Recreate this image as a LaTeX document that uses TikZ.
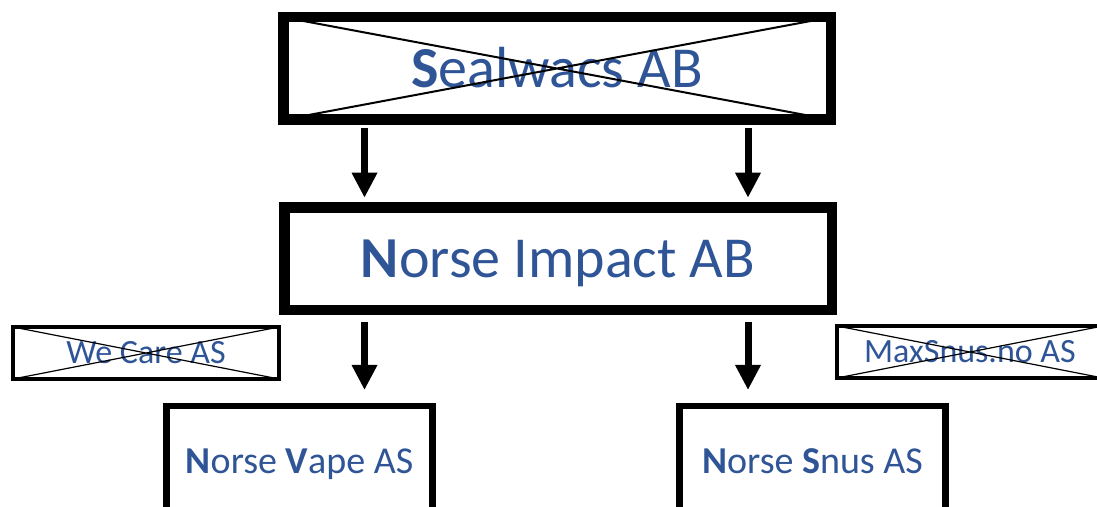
\documentclass[tikz,border=0pt]{standalone}
\usepackage{fontspec}
\setmainfont{Carlito}
\usetikzlibrary{arrows.meta}
\definecolor{nodeblue}{RGB}{47,85,151}
\tikzset{
  bigbox/.style={draw, line width=5.25pt, minimum width=273.75pt, minimum height=51.25pt,
    inner sep=0pt, outer sep=0pt, text=nodeblue,
    font=\fontsize{29}{34}\selectfont, text height=18.7pt, text depth=0pt},
  smallbox/.style={draw, line width=2pt, minimum width=133pt, minimum height=26pt,
    inner sep=0pt, outer sep=0pt, text=nodeblue,
    font=\fontsize{17}{20}\selectfont, text height=11pt, text depth=0pt},
  unitbox/.style={draw, line width=3.25pt, minimum width=133pt, minimum height=55pt,
    inner sep=0pt, outer sep=0pt, text=nodeblue,
    font=\fontsize{19}{23}\selectfont, text height=12.2pt, text depth=0pt},
  arr/.style={-{Triangle[width=12pt,length=12.5pt]}, line width=3.5pt}
}
\begin{document}
\begin{tikzpicture}[x=0.5pt,y=-0.5pt]
  \useasboundingbox (0,0) rectangle (1097,507);
  % holding companies
  \node[bigbox] (sealwacs) at (557,68.5) {\textbf{S}ealwacs AB};
  \node[bigbox] (impact) at (558,259) {\textbf{N}orse Impact AB};
  % subsidiaries that are gone
  \node[smallbox] (wecare) at (146,353) {We Care AS};
  \node[smallbox] (maxsnus) at (970,352) {MaxSnus.no AS};
  % operating companies
  \node[unitbox] (vape) at (299.5,461) {\textbf{N}orse \textbf{V}ape AS};
  \node[unitbox] (snus) at (812.5,461) {\textbf{N}orse \textbf{S}nus AS};
  % crosses over the old ones
  \foreach \n/\w in {sealwacs/1pt, wecare/0.6pt, maxsnus/0.6pt}
    \draw[line width=\w] (\n.north west) -- (\n.south east)
                         (\n.south west) -- (\n.north east);
  % arrow columns
  \coordinate (lx) at (364.5,0);
  \coordinate (rx) at (748,0);
  \draw[arr, shorten <=4.1pt, shorten >=5pt] (sealwacs.south -| lx) -- (impact.north -| lx);
  \draw[arr, shorten <=4.1pt, shorten >=5pt] (sealwacs.south -| rx) -- (impact.north -| rx);
  \draw[arr, shorten <=6pt, shorten >=8pt] (impact.south -| lx) -- (vape.north -| lx);
  \draw[arr, shorten <=6pt, shorten >=8pt] (impact.south -| rx) -- (snus.north -| rx);
\end{tikzpicture}
\end{document}
